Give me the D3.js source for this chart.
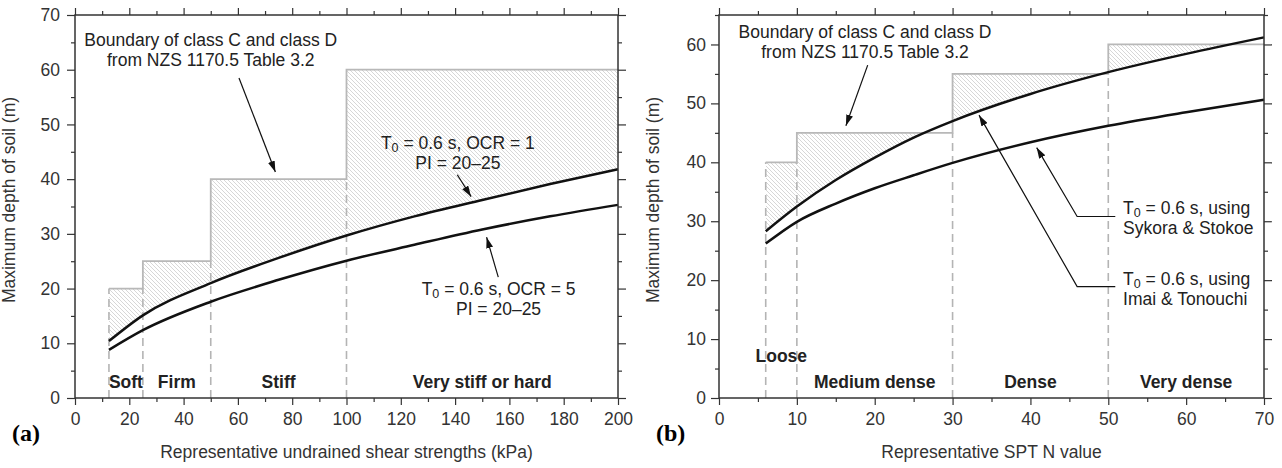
<!DOCTYPE html>
<html>
<head>
<meta charset="utf-8">
<script src="https://cdn.jsdelivr.net/npm/d3@7"></script>
<style>
  body { margin: 0; background: #fff; }
  text { font-family: "Liberation Sans", Arial, sans-serif; fill: #222; }
</style>
</head>
<body>
<svg id="chart" width="1282" height="468"></svg>
<script>
//---------------- data (a) : undrained shear strength ----------------
var shearX    = [12.5, 25, 50, 75, 100, 125, 150, 175, 200];
var depthOCR1 = [10.4, 15.1, 21.0, 25.6, 29.7, 33.2, 36.2, 39.1, 41.8];
var depthOCR5 = [8.8, 12.4, 17.6, 21.6, 25.1, 28.0, 30.8, 33.2, 35.3];
var shearSteps     = [12.5, 25, 50, 100, 200];
var shearStepDepth = [20, 25, 40, 60, 60];
var shearZones = ["Soft", "Firm", "Stiff", "Very stiff or hard"];

//---------------- data (b) : SPT N value ----------------
var sptX        = [6, 10, 15, 20, 25, 30, 40, 50, 60, 70];
var depthImai   = [28.3, 32.5, 37.0, 40.8, 44.2, 47.0, 51.6, 55.3, 58.4, 61.2];
var depthSykora = [26.2, 29.9, 33.0, 35.6, 37.8, 39.9, 43.4, 46.2, 48.5, 50.6];
var sptSteps     = [6, 10, 30, 50, 70];
var sptStepDepth = [40, 45, 55, 60, 60];
var sptZones = ["Loose", "Medium dense", "Dense", "Very dense"];

var svg = d3.select("#chart");
var defs = svg.append("defs");

// diagonal hatch
defs.append("pattern")
    .attr("id", "hatch")
    .attr("patternUnits", "userSpaceOnUse")
    .attr("width", 4)
    .attr("height", 4)
  .append("path")
    .attr("d", "M-1,-1L5,5M-1,3L1,5M3,-1L5,1")
    .attr("stroke", "#c6c6c6")
    .attr("stroke-width", 0.7);

defs.append("marker")
    .attr("id", "head")
    .attr("viewBox", "0 0 11 7")
    .attr("refX", 11).attr("refY", 3.5)
    .attr("markerWidth", 11).attr("markerHeight", 7)
    .attr("markerUnits", "userSpaceOnUse")
    .attr("orient", "auto")
  .append("path")
    .attr("d", "M0,0L11,3.5L0,7z")
    .attr("fill", "#111");

function drawPanel(c) {
  var x = d3.scaleLinear().domain([0, c.xMax]).range([c.left, c.right]);
  var y = d3.scaleLinear().domain([0, c.yMax]).range([398, 15]);
  var g = svg.append("g");

  var pts = c.curveX.map(function(d, i) { return {x: d, up: c.upper[i], lo: c.lower[i]}; });
  var steps = c.steps.map(function(d, i) { return {x: d, v: c.stepDepth[i]}; });

  // clip: everything above the upper curve
  var above = d3.area().curve(d3.curveMonotoneX)
    .x(function(d) { return x(d.x); })
    .y0(function(d) { return y(d.up); })
    .y1(y(c.yMax));
  defs.append("clipPath").attr("id", "clip" + c.id)
    .append("path").attr("d", above(pts));

  var stepArea = d3.area().curve(d3.curveStepAfter)
    .x(function(d) { return x(d.x); })
    .y0(y(0))
    .y1(function(d) { return y(d.v); });
  g.append("path")
    .attr("d", stepArea(steps))
    .attr("fill", "url(#hatch)")
    .attr("clip-path", "url(#clip" + c.id + ")");

  // dashed zone separators
  var seps = steps.slice(0, -1).map(function(d, i) {
    return {x: d.x, v: i === 0 ? d.v : steps[i - 1].v};
  });
  g.selectAll(".sep").data(seps).enter().append("line")
    .attr("x1", function(d) { return x(d.x); })
    .attr("x2", function(d) { return x(d.x); })
    .attr("y1", y(0))
    .attr("y2", function(d) { return y(d.v); })
    .attr("stroke", "#b4b4b4")
    .attr("stroke-width", 1.6)
    .attr("stroke-dasharray", "8,5");

  var stepLine = d3.line().curve(d3.curveStepAfter)
    .x(function(d) { return x(d.x); })
    .y(function(d) { return y(d.v); });
  g.append("path")
    .attr("d", stepLine(steps))
    .attr("fill", "none")
    .attr("stroke", "#b8b8b8")
    .attr("stroke-width", 1.8);

  // curves
  ["up", "lo"].forEach(function(k) {
    var line = d3.line().curve(d3.curveMonotoneX)
      .x(function(d) { return x(d.x); })
      .y(function(d) { return y(d[k]); });
    g.append("path")
      .attr("d", line(pts))
      .attr("fill", "none")
      .attr("stroke", "#111")
      .attr("stroke-width", 2.5);
  });

  // zone labels
  g.selectAll(".zone").data(c.zones).enter().append("text")
    .attr("x", function(d, i) { return x((c.steps[i] + c.steps[i + 1]) / 2); })
    .attr("y", function(d, i) { return y(0) - (c.zoneRaise[i] || 10); })
    .attr("text-anchor", "middle")
    .style("font-size", "17.5px")
    .style("font-weight", "bold")
    .text(function(d) { return d; });

  // frame + ticks
  g.append("rect")
    .attr("x", c.left).attr("y", 15)
    .attr("width", c.right - c.left).attr("height", 383)
    .attr("fill", "none").attr("stroke", "#333").attr("stroke-width", 1.5);

  var xMaj = d3.range(0, c.xMax + 0.1, c.xMajor);
  var xMin = d3.range(0, c.xMax + 0.1, c.xMinor).filter(function(v) { return v % c.xMajor !== 0; });
  var yMaj = d3.range(0, c.yMax + 0.1, 10);
  var yMin = d3.range(0, c.yMax + 0.1, 5).filter(function(v) { return v % 10 !== 0; });

  function clean(s) {
    s.select(".domain").remove();
    s.selectAll("line").attr("stroke", "#333").attr("stroke-width", 1.2);
    s.selectAll("text").style("font-size", "17.5px").style("fill", "#333").style("font-family", '"Liberation Sans", Arial, sans-serif');
  }
  g.append("g").attr("transform", "translate(0,398)")
    .call(d3.axisBottom(x).tickValues(xMaj).tickSize(7).tickPadding(8)).call(clean);
  g.append("g").attr("transform", "translate(0,398)")
    .call(d3.axisBottom(x).tickValues(xMin).tickSize(4).tickFormat("")).call(clean);
  g.append("g").attr("transform", "translate(0,15)")
    .call(d3.axisTop(x).tickValues(xMaj).tickSize(7).tickFormat("")).call(clean);
  g.append("g").attr("transform", "translate(0,15)")
    .call(d3.axisTop(x).tickValues(xMin).tickSize(4).tickFormat("")).call(clean);
  g.append("g").attr("transform", "translate(" + c.left + ",0)")
    .call(d3.axisLeft(y).tickValues(yMaj).tickSize(8).tickPadding(c.yPad)).call(clean);
  g.append("g").attr("transform", "translate(" + c.left + ",0)")
    .call(d3.axisLeft(y).tickValues(yMin).tickSize(4).tickFormat("")).call(clean);
  g.append("g").attr("transform", "translate(" + c.right + ",0)")
    .call(d3.axisRight(y).tickValues(yMaj).tickSize(8).tickFormat("")).call(clean);
  g.append("g").attr("transform", "translate(" + c.right + ",0)")
    .call(d3.axisRight(y).tickValues(yMin).tickSize(4).tickFormat("")).call(clean);

  // titles
  g.append("text")
    .attr("x", (c.left + c.right) / 2).attr("y", 458)
    .attr("text-anchor", "middle")
    .style("font-size", "17.5px").style("fill", "#333")
    .text(c.xTitle);
  g.append("text")
    .attr("transform", "translate(" + c.yTitleX + ",200) rotate(-90)")
    .attr("text-anchor", "middle")
    .style("font-size", "17.5px").style("fill", "#333")
    .text("Maximum depth of soil (m)");
  g.append("text")
    .attr("x", c.tagX).attr("y", 441)
    .style("font-family", '"Liberation Serif", "Times New Roman", serif')
    .style("font-size", "24px").style("font-weight", "bold")
    .style("fill", "#000")
    .text(c.tag);

  // annotations (one text per line)
  c.notes.forEach(function(n) {
    n.lines.forEach(function(l, i) {
      var t = g.append("text")
        .attr("x", x(n.x)).attr("y", y(n.y) + i * n.gap)
        .attr("text-anchor", n.anchor)
        .style("font-size", "17.5px");
      if (l.indexOf("T0") === 0) {
        t.append("tspan").text("T");
        t.append("tspan").attr("dy", 3).style("font-size", "12.5px").text("0");
        t.append("tspan").attr("dy", -3).text(l.slice(2));
      } else {
        t.text(l);
      }
    });
  });
  c.arrows.forEach(function(a) {
    var p = a.map(function(d) { return [x(d[0]), y(d[1])]; });
    g.append("path")
      .attr("d", d3.line()(p))
      .attr("fill", "none")
      .attr("stroke", "#111")
      .attr("stroke-width", 1.2)
      .attr("marker-end", "url(#head)");
  });
}

drawPanel({
  id: "a", left: 75, right: 618, xMax: 200, yMax: 70,
  xMajor: 20, xMinor: 10, yPad: 7,
  curveX: shearX, upper: depthOCR1, lower: depthOCR5,
  steps: shearSteps, stepDepth: shearStepDepth,
  zones: shearZones, zoneRaise: [],
  xTitle: "Representative undrained shear strengths (kPa)",
  yTitleX: 15, tag: "(a)", tagX: 12,
  notes: [
    {x: 50, y: 64.25, anchor: "middle", gap: 20,
     lines: ["Boundary of class C and class D", "from NZS 1170.5 Table 3.2"]},
    {x: 141, y: 45.6, anchor: "middle", gap: 20,
     lines: ["T0 = 0.6 s, OCR = 1", "PI = 20\u201325"]},
    {x: 156, y: 18.83, anchor: "middle", gap: 20,
     lines: ["T0 = 0.6 s, OCR = 5", "PI = 20\u201325"]}
  ],
  arrows: [
    [[60.4, 58.5], [73.8, 41.3]],
    [[140.8, 40.8], [145.9, 36.8]],
    [[155.9, 22.1], [151.6, 29.4]]
  ]
});

drawPanel({
  id: "b", left: 719, right: 1264, xMax: 70, yMax: 65,
  xMajor: 10, xMinor: 5, yPad: 5,
  curveX: sptX, upper: depthImai, lower: depthSykora,
  steps: sptSteps, stepDepth: sptStepDepth,
  zones: sptZones, zoneRaise: [36],
  xTitle: "Representative SPT N value",
  yTitleX: 659, tag: "(b)", tagX: 656,
  notes: [
    {x: 18.75, y: 61.18, anchor: "middle", gap: 20,
     lines: ["Boundary of class C and class D", "from NZS 1170.5 Table 3.2"]},
    {x: 51.9, y: 31.31, anchor: "start", gap: 20,
     lines: ["T0 = 0.6 s, using", "Sykora & Stokoe"]},
    {x: 51.9, y: 19.26, anchor: "start", gap: 20,
     lines: ["T0 = 0.6 s, using", "Imai & Tonouchi"]}
  ],
  arrows: [
    [[19.1, 56.5], [16.3, 46.2]],
    [[50.9, 30.8], [46.0, 30.8], [40.8, 42.5]],
    [[50.9, 18.9], [46.0, 18.9], [33.4, 48.0]]
  ]
});
</script>
</body>
</html>
